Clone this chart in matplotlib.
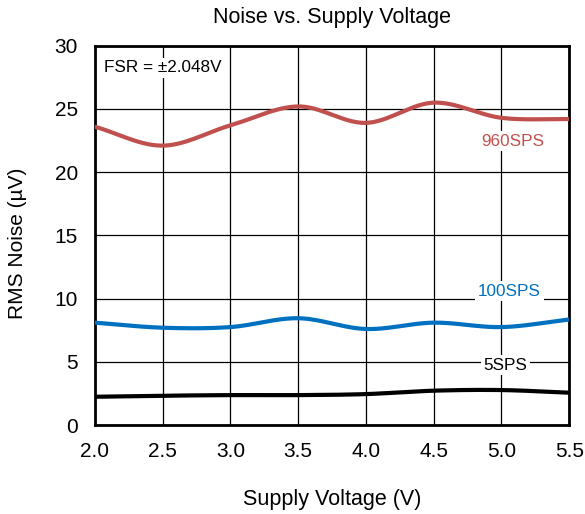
import numpy as np
import matplotlib
matplotlib.use("Agg")
import matplotlib.pyplot as plt

plt.rcParams['font.family'] = ['Liberation Sans', 'DejaVu Sans']

voltage = [2.0, 2.5, 3.0, 3.5, 4.0, 4.5, 5.0, 5.5]
noise_960 = [23.6, 22.1, 23.7, 25.2, 23.9, 25.5, 24.3, 24.2]
noise_100 = [8.1, 7.7, 7.75, 8.45, 7.6, 8.1, 7.75, 8.35]
noise_5 = [2.24, 2.32, 2.37, 2.37, 2.45, 2.72, 2.77, 2.56]
x_ticks = [2.0, 2.5, 3.0, 3.5, 4.0, 4.5, 5.0, 5.5]
y_ticks = [0, 5, 10, 15, 20, 25, 30]


def smooth(x, y, n=30):
    x = np.asarray(x, float)
    y = np.asarray(y, float)
    px = np.concatenate([[2 * x[0] - x[1]], x, [2 * x[-1] - x[-2]]])
    py = np.concatenate([[2 * y[0] - y[1]], y, [2 * y[-1] - y[-2]]])
    xs, ys = [], []
    for i in range(1, len(px) - 2):
        t = np.linspace(0, 1, n, endpoint=False)
        for arr, out in ((px, xs), (py, ys)):
            p0, p1, p2, p3 = arr[i - 1], arr[i], arr[i + 1], arr[i + 2]
            out.extend(0.5 * ((2 * p1) + (-p0 + p2) * t
                              + (2 * p0 - 5 * p1 + 4 * p2 - p3) * t ** 2
                              + (-p0 + 3 * p1 - 3 * p2 + p3) * t ** 3))
    xs.append(x[-1])
    ys.append(y[-1])
    return np.array(xs), np.array(ys)


fig = plt.figure(figsize=(5.85, 5.14), dpi=100)
ax = fig.add_axes([0.162, 0.173, 0.811, 0.738])

red = '#C0504D'
blue = '#0070C0'
for yv, col in ((noise_960, red), (noise_100, blue), (noise_5, 'black')):
    sx, sy = smooth(voltage, yv)
    ax.plot(sx, sy, color=col, lw=3, solid_capstyle='butt', zorder=3)

ax.set_xlim(2.0, 5.5)
ax.set_ylim(0, 30)
ax.set_xticks(x_ticks)
ax.set_xticklabels([f"{v:.1f}" for v in x_ticks])
ax.set_yticks(y_ticks)
ax.grid(True, color='black', lw=0.9)
ax.tick_params(length=0, labelsize=15, pad=12)
for s in ax.spines.values():
    s.set_linewidth(2)

fig.text(0.5 * (0.162 + 0.973), 1 - 18 / 514, 'Noise vs. Supply Voltage', fontsize=15.5,
         ha='center', va='center')
fig.text(0.5 * (0.162 + 0.973), 1 - 500 / 514, 'Supply Voltage (V)', fontsize=15.5,
         ha='center', va='center')
fig.text(18 / 585, 1 - 243 / 514, 'RMS Noise (µV)', fontsize=15, rotation=90,
         ha='center', va='center')

bb = dict(facecolor='white', edgecolor='none', pad=2)
ax.text(2.065, 28.25, 'FSR = ±2.048V', fontsize=12.3, va='center', ha='left', bbox=bb, zorder=2)
ax.text(5.08, 22.45, '960SPS', fontsize=12.3, color=red, va='center', ha='center', bbox=bb, zorder=2)
ax.text(5.06, 10.6, '100SPS', fontsize=12.3, color=blue, va='center', ha='center', bbox=bb, zorder=2)
ax.text(5.03, 4.75, '5SPS', fontsize=12.3, color='black', va='center', ha='center', bbox=bb, zorder=2)

fig.savefig('out.png', dpi=100)
